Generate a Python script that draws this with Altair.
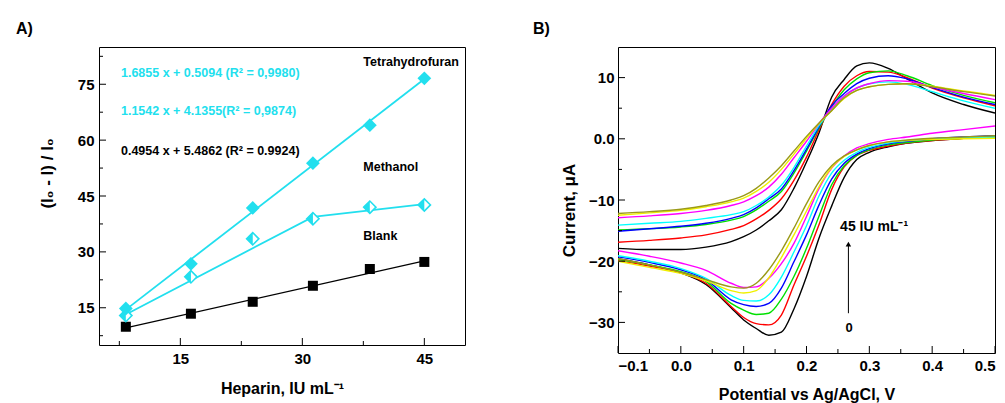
import altair as alt
import pandas as pd

FONT = "Liberation Sans"
CYAN = "#22DFEE"

# ---------------- Panel A data ----------------
heparin = [8.3, 16.3, 23.9, 31.3, 38.3, 45.0]
thf = [14.8, 26.8, 41.8, 53.8, 64.0, 76.6]
methanol = [12.9, 23.3, 33.5, 38.9, 42.0, 42.6]
blank = [9.9, 13.4, 16.6, 20.9, 25.4, 27.3]

thf_fit_x = [8.3, 45.0]
thf_fit_y = [14.5, 76.4]
meth_fit_x = [8.3, 31.3, 45.0]
meth_fit_y = [13.2, 39.4, 42.8]
blank_fit_x = [8.3, 45.0]
blank_fit_y = [9.6, 27.6]

eq_text = ["1.6855 x + 0.5094 (R² = 0,9980)", "1.1542 x + 4.1355(R² = 0,9874)", "0.4954 x + 5.4862 (R² = 0.9924)"]
eq_x = [7.7, 7.7, 7.7]
eq_y = [78.0, 67.8, 57.1]
eq_color = [CYAN, CYAN, "black"]

lab_text = ["Tetrahydrofuran", "Methanol", "Blank"]
lab_x = [37.5, 37.5, 37.5]
lab_y = [81.0, 52.8, 34.3]

A_x_major = [15, 30, 45]
A_x_minor = [7.5, 22.5, 37.5]
A_y_major = [15, 30, 45, 60, 75]
A_y_minor = [7.5, 22.5, 37.5, 52.5, 67.5, 82.5]

# ---------------- Panel B data ----------------
potential = [-0.1, -0.05, 0.0, 0.04, 0.08, 0.1, 0.12, 0.14, 0.16, 0.18, 0.2,
             0.22, 0.24, 0.26, 0.28, 0.3, 0.33, 0.36, 0.4, 0.45, 0.5]
curve_names = ["black", "red", "green", "blue", "cyan", "magenta", "yellow", "olive"]
curve_colors = ["#000000", "#FF0000", "#00E000", "#0000FF", "#00FFFF", "#FF00FF", "#F0F000", "#9A9A18"]

upper = {
    "black":   [-17.9, -18.1, -18.1, -17.7, -16.8, -16.0, -14.9, -13.4, -11.6, -8.1, -3.8, 1.0, 6.8, 9.7, 11.9, 12.4, 11.5, 9.8, 7.5, 5.6, 4.2],
    "red":     [-16.9, -16.6, -16.2, -15.7, -14.8, -14.2, -13.1, -11.7, -9.8, -6.8, -3.0, 1.5, 5.6, 8.6, 10.3, 11.0, 10.9, 10.0, 8.3, 6.7, 5.4],
    "green":   [-14.9, -14.7, -14.4, -14.0, -13.3, -12.7, -11.6, -10.2, -8.6, -5.6, -2.0, 1.8, 5.2, 8.0, 9.8, 10.8, 11.1, 10.3, 8.7, 7.1, 5.9],
    "blue":    [-15.1, -14.7, -14.3, -13.8, -13.0, -12.4, -11.3, -9.8, -8.2, -5.2, -1.7, 2.0, 5.4, 7.4, 9.0, 9.9, 10.3, 9.8, 8.4, 6.8, 5.6],
    "cyan":    [-14.1, -13.8, -13.5, -13.0, -12.4, -11.9, -10.9, -9.5, -7.6, -4.7, -1.2, 2.2, 4.8, 7.0, 8.3, 9.0, 9.3, 8.9, 7.7, 6.2, 5.0],
    "magenta": [-12.9, -12.6, -12.2, -11.7, -10.9, -10.3, -9.3, -7.9, -5.8, -3.1, -0.4, 2.5, 5.0, 7.0, 8.3, 9.0, 9.5, 9.4, 8.5, 7.4, 6.4],
    "yellow":  [-12.5, -12.1, -11.7, -11.1, -10.3, -9.7, -8.6, -7.1, -5.0, -2.5, 0.1, 2.5, 4.6, 6.6, 7.9, 8.5, 8.9, 9.0, 8.6, 7.8, 7.1],
    "olive":   [-12.2, -11.9, -11.5, -10.9, -10.0, -9.3, -8.1, -6.4, -4.4, -2.0, 0.4, 2.6, 4.6, 6.7, 7.9, 8.5, 8.9, 9.0, 8.5, 7.7, 7.0],
}
lower = {
    "black":   [-19.6, -20.6, -21.9, -23.8, -27.6, -29.6, -31.0, -32.1, -31.6, -27.8, -22.5, -16.2, -11.0, -6.3, -3.4, -2.2, -1.3, -0.7, -0.3, 0.1, 0.3],
    "red":     [-19.9, -20.8, -21.9, -23.6, -27.4, -29.2, -30.2, -30.4, -28.8, -23.9, -19.2, -14.0, -8.3, -4.6, -2.7, -1.9, -1.2, -0.7, -0.3, 0.1, 0.3],
    "green":   [-19.7, -20.6, -21.7, -23.3, -26.9, -28.0, -28.7, -28.5, -26.2, -22.5, -17.9, -12.6, -7.5, -4.4, -2.7, -1.8, -1.0, -0.6, -0.2, 0.1, 0.3],
    "blue":    [-19.3, -20.2, -21.4, -23.0, -26.3, -27.1, -27.4, -26.9, -24.4, -20.1, -15.7, -10.8, -6.6, -4.0, -2.5, -1.6, -0.8, -0.4, 0.0, 0.3, 0.5],
    "cyan":    [-19.1, -20.0, -21.2, -22.8, -25.6, -26.4, -26.5, -25.5, -22.6, -18.5, -14.2, -9.3, -5.6, -3.5, -2.2, -1.4, -0.7, -0.3, 0.0, 0.2, 0.3],
    "magenta": [-18.3, -19.2, -20.3, -21.5, -23.6, -24.3, -24.2, -22.8, -20.4, -17.1, -12.7, -8.1, -4.8, -2.8, -1.5, -0.8, -0.1, 0.3, 0.9, 1.5, 2.1],
    "yellow":  [-20.0, -21.0, -22.0, -23.2, -24.8, -25.2, -24.8, -22.7, -19.4, -15.7, -11.8, -7.8, -4.7, -2.9, -1.8, -1.1, -0.5, -0.3, -0.1, 0.0, 0.1],
    "olive":   [-19.6, -20.6, -21.8, -23.0, -24.2, -24.4, -23.6, -21.4, -18.3, -14.6, -10.6, -7.0, -4.4, -2.8, -1.8, -1.1, -0.5, -0.2, 0.1, 0.3, 0.5],
}

B_x_major = [-0.1, 0.0, 0.1, 0.2, 0.3, 0.4, 0.5]
B_x_minor = [-0.05, 0.05, 0.15, 0.25, 0.35, 0.45]
B_y_major = [-30, -20, -10, 0, 10]
B_y_minor = [-25, -15, -5, 5]

arrow_x = [0.2667, 0.2667]
arrow_y = [-28.5, -17.2]
note_text = ["45 IU mL⁻¹", "0"]
note_x = [0.2535, 0.268]
note_y = [-14.4, -30.9]

# ---------------- Panel A ----------------
WA, HA = 366, 298
XA = alt.X("x:Q", scale=alt.Scale(domain=[5, 50], nice=False, zero=False),
           axis=alt.Axis(values=A_x_major, title="Heparin, IU mL⁻¹", labelPadding=6, titlePadding=14))
YA = alt.Y("y:Q", scale=alt.Scale(domain=[5, 85], nice=False, zero=False),
           axis=alt.Axis(values=A_y_major, title="(I₀ - I) / I₀", labelPadding=5, titlePadding=21,
                         titleFontSize=17, titleY=126))

def df(xs, ys, **extra):
    d = {"x": xs, "y": ys}
    d.update(extra)
    return pd.DataFrame(d)

a_layers = [
    alt.Chart(df(blank_fit_x, blank_fit_y)).mark_line(color="black", strokeWidth=1.2).encode(x=XA, y=YA),
    alt.Chart(df(thf_fit_x, thf_fit_y)).mark_line(color=CYAN, strokeWidth=1.8).encode(x=XA, y=YA),
    alt.Chart(df(meth_fit_x, meth_fit_y)).mark_line(color=CYAN, strokeWidth=1.8).encode(x=XA, y=YA),
    alt.Chart(df(heparin, blank)).mark_point(shape="square", filled=True, size=100, color="black", opacity=1).encode(x=XA, y=YA),
    alt.Chart(df(heparin, methanol)).mark_point(shape="diamond", filled=True, size=170, color="white", opacity=1).encode(x=XA, y=YA),
    alt.Chart(df(heparin, methanol)).mark_point(shape="diamond", filled=False, size=150, color=CYAN, strokeWidth=1.6, opacity=1).encode(x=XA, y=YA),
    alt.Chart(df(heparin, methanol)).mark_point(shape="M0,-1L-1,0L0,1Z", filled=True, size=150, color=CYAN, opacity=1).encode(x=XA, y=YA),
    alt.Chart(df(heparin, thf)).mark_point(shape="diamond", filled=True, size=190, color=CYAN, opacity=1).encode(x=XA, y=YA),
    alt.Chart(df(eq_x, eq_y, t=eq_text, c=eq_color)).mark_text(align="left", baseline="middle", font=FONT, fontWeight="bold", fontSize=12.5).encode(
        x=XA, y=YA, text="t:N", color=alt.Color("c:N", scale=None)),
    alt.Chart(df(lab_x, lab_y, t=lab_text)).mark_text(align="left", baseline="middle", font=FONT, fontWeight="bold", fontSize=12.5, color="black").encode(
        x=XA, y=YA, text="t:N"),
    alt.Chart(pd.DataFrame({"x": A_x_major})).mark_rule(color="black").encode(x=XA, y=alt.value(HA), y2=alt.value(HA - 7)),
    alt.Chart(pd.DataFrame({"x": A_x_minor})).mark_rule(color="black").encode(x=XA, y=alt.value(HA), y2=alt.value(HA - 4)),
    alt.Chart(pd.DataFrame({"y": A_y_major})).mark_rule(color="black").encode(y=YA, x=alt.value(0), x2=alt.value(7)),
    alt.Chart(pd.DataFrame({"y": A_y_minor})).mark_rule(color="black").encode(y=YA, x=alt.value(0), x2=alt.value(4)),
]
panelA = alt.layer(*a_layers).properties(
    width=WA, height=HA,
    title=alt.TitleParams("A)", anchor="start", frame="group", dx=-83, offset=10, fontSize=16, font=FONT, fontWeight="bold", color="black"))

# ---------------- Panel B ----------------
WB, HB = 377, 306
rows = []
for name in curve_names:
    for branch, table in (("up", upper), ("down", lower)):
        for v, i in zip(potential, table[name]):
            rows.append({"x": v, "y": i, "curve": name, "key": name + "-" + branch})
cv = pd.DataFrame(rows)

XB = alt.X("x:Q", scale=alt.Scale(domain=[-0.1, 0.5], nice=False, zero=False),
           axis=alt.Axis(values=B_x_major, format=".1f", title="Potential vs Ag/AgCl, V", labelPadding=5, titlePadding=13))
YB = alt.Y("y:Q", scale=alt.Scale(domain=[-35, 15], nice=False, zero=False),
           axis=alt.Axis(values=B_y_major, labelExpr="datum.value == 0 ? '0.0' : format(datum.value, 'd')",
                         title="Current, μA", labelPadding=4, titlePadding=10, titleFontSize=17, titleY=163))

b_layers = [
    alt.Chart(cv).mark_line(interpolate="monotone", strokeWidth=1.4, clip=True).encode(
        x=XB, y=YB,
        color=alt.Color("curve:N", scale=alt.Scale(domain=curve_names, range=curve_colors), legend=None),
        detail="key:N"),
    alt.Chart(df(arrow_x, arrow_y)).mark_line(color="black", strokeWidth=1).encode(x=XB, y=YB),
    alt.Chart(df(arrow_x[1:], arrow_y[1:])).mark_point(shape="triangle-up", filled=True, size=30, color="black", opacity=1).encode(x=XB, y=YB),
    alt.Chart(df(note_x[:1], note_y[:1], t=note_text[:1])).mark_text(align="left", baseline="middle", font=FONT, fontWeight="bold", fontSize=14, color="black").encode(
        x=XB, y=YB, text="t:N"),
    alt.Chart(df(note_x[1:], note_y[1:], t=note_text[1:])).mark_text(align="center", baseline="middle", font=FONT, fontWeight="bold", fontSize=13, color="black").encode(
        x=XB, y=YB, text="t:N"),
    alt.Chart(pd.DataFrame({"x": B_x_major})).mark_rule(color="black").encode(x=XB, y=alt.value(HB), y2=alt.value(HB - 7)),
    alt.Chart(pd.DataFrame({"x": B_x_minor})).mark_rule(color="black").encode(x=XB, y=alt.value(HB), y2=alt.value(HB - 4)),
    alt.Chart(pd.DataFrame({"y": B_y_major})).mark_rule(color="black").encode(y=YB, x=alt.value(0), x2=alt.value(7)),
    alt.Chart(pd.DataFrame({"y": B_y_minor})).mark_rule(color="black").encode(y=YB, x=alt.value(0), x2=alt.value(4)),
]
panelB = alt.layer(*b_layers).properties(
    width=WB, height=HB,
    title=alt.TitleParams("B)", anchor="start", frame="group", dx=-85, offset=10, fontSize=16, font=FONT, fontWeight="bold", color="black"))

chart = alt.hconcat(panelA, panelB, spacing=66).properties(
    padding={"left": 7, "top": 12, "right": 0, "bottom": 0}
).configure_view(stroke="black", strokeWidth=1).configure_axis(
    grid=False, domain=False, ticks=False,
    labelFont=FONT, labelFontWeight="bold", labelFontSize=15, labelColor="black",
    titleFont=FONT, titleFontWeight="bold", titleFontSize=16, titleColor="black"
)

chart.save("out.html", embed_options={"renderer": "svg", "actions": False})
